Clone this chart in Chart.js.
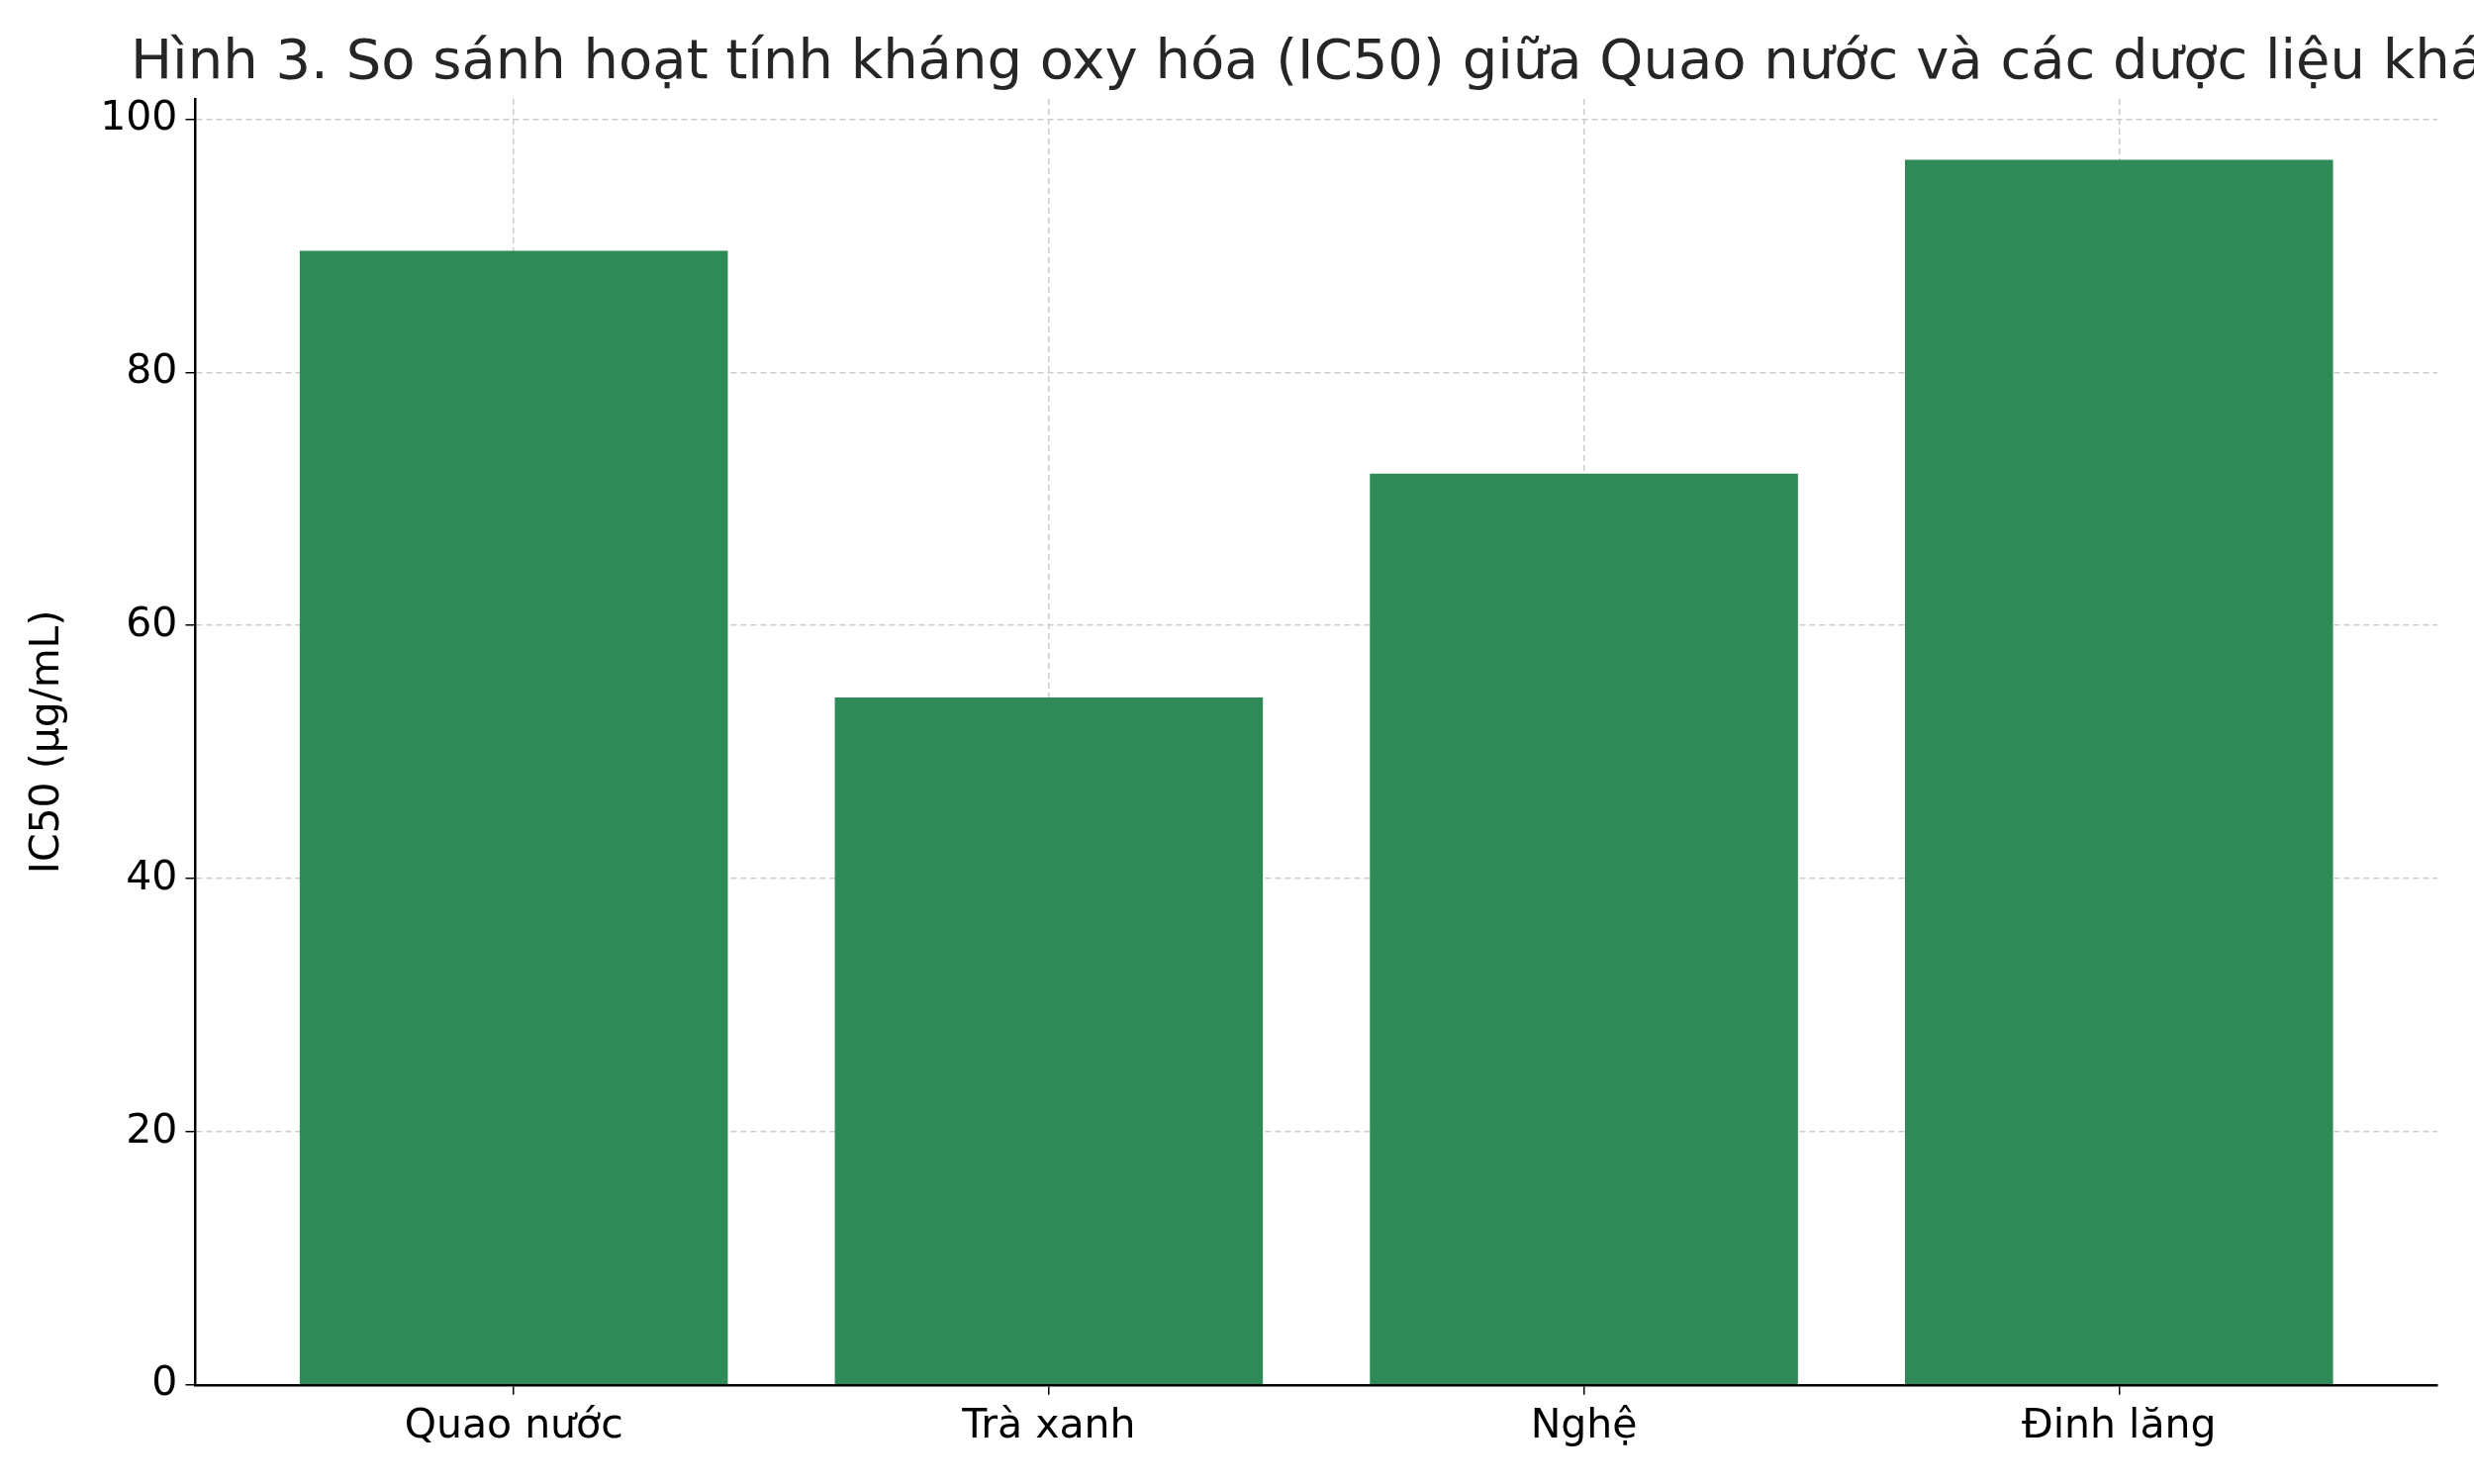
<!DOCTYPE html>
<html>
<head>
<meta charset="utf-8">
<script src="https://cdn.jsdelivr.net/npm/chart.js@4"></script>
<style>
  body { margin: 0; background: #fff; }
  canvas { display: block; }
</style>
</head>
<body>
<canvas id="chart" width="2500" height="1500"></canvas>
<script>
const categories = ['Quao nước', 'Trà xanh', 'Nghệ', 'Đinh lăng'];
const ic50Values = [89.6, 54.3, 72.0, 96.8];
const yTicks = [0, 20, 40, 60, 80, 100];
const titleText = 'Hình 3. So sánh hoạt tính kháng oxy hóa (IC50) giữa Quao nước và các dược liệu khác';

const FONT = 'DejaVu Sans';

const titlePlugin = {
    id: 'leftTitle',
    afterDraw(chart) {
        const c = chart.ctx;
        c.save();
        c.font = '56px "' + FONT + '"';
        c.fillStyle = '#262626';
        c.textBaseline = 'middle';
        c.textAlign = 'left';
        c.fillText(titleText, 132, 64);
        c.restore();
    }
};

const ctx = document.getElementById('chart').getContext('2d');
new Chart(ctx, {
    type: 'bar',
    data: {
        datasets: [{
            data: ic50Values.map((v, i) => ({ x: i, y: v })),
            backgroundColor: '#2e8b57',
            barPercentage: 0.8,
            categoryPercentage: 1.0,
        }],
    },
    options: {
        responsive: false,
        animation: false,
        layout: { padding: { top: 100, right: 37, left: 20, bottom: 25 } },
        plugins: { legend: { display: false }, tooltip: { enabled: false } },
        scales: {
            x: {
                type: 'linear',
                offset: false,
                min: -0.595,
                max: 3.595,
                afterBuildTicks: (axis) => { axis.ticks = categories.map((_, i) => ({ value: i })); },
                ticks: {
                    callback: (v) => categories[v],
                    font: { family: FONT, size: 41 },
                    color: '#000',
                    padding: 8,
                    maxRotation: 0,
                },
                grid: {
                    offset: false,
                    color: '#cccccc',
                    lineWidth: 1.5,
                    drawTicks: true,
                    tickLength: 10,
                    tickColor: '#000',
                },
                border: { color: '#000', width: 2.5, dash: [6, 4] },
            },
            y: {
                min: 0,
                max: 101.6,
                afterBuildTicks: (axis) => { axis.ticks = yTicks.map(v => ({ value: v })); },
                ticks: {
                    font: { family: FONT, size: 41 },
                    color: '#000',
                    padding: 8,
                },
                title: {
                    display: true,
                    text: 'IC50 (µg/mL)',
                    font: { family: FONT, size: 41 },
                    color: '#000',
                    padding: { bottom: 20 },
                },
                grid: {
                    color: '#cccccc',
                    lineWidth: 1.5,
                    tickLength: 10,
                    tickColor: '#000',
                },
                border: { color: '#000', width: 2.5, dash: [6, 4] },
            },
        },
    },
    plugins: [titlePlugin],
});
</script>
</body>
</html>
